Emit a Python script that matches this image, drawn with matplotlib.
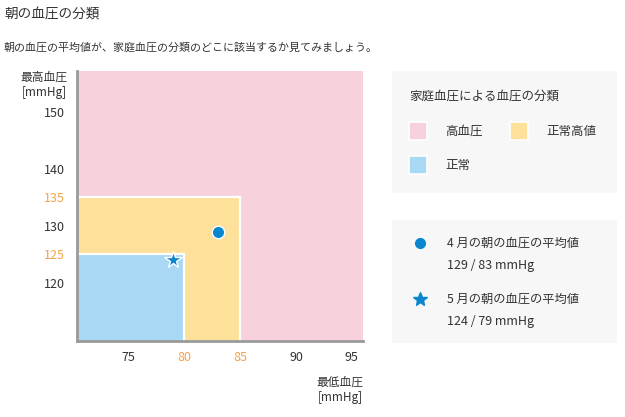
import matplotlib.pyplot as plt
from matplotlib.patches import Rectangle
from matplotlib.lines import Line2D

plt.rcParams['font.family'] = ['Noto Sans CJK JP', 'DejaVu Sans']

# classification (upper bounds: systolic / diastolic)
categories = ['高血圧', '正常高値', '正常']
sys_limits = [None, 135, 125]
dia_limits = [None, 85, 80]
cat_colors = ['#f7d1dc', '#fde09a', '#a8d8f3']

# monthly morning averages
months = ['4 月', '5 月']
systolic = [129, 124]
diastolic = [83, 79]
markers = ['o', '*']

x_ticks = [75, 80, 85, 90, 95]
y_ticks = [120, 125, 130, 135, 140, 150]
highlight = [80, 85, 125, 135]

W, H = 625, 417
ORANGE = '#f5a24a'
TEXT = '#333333'
BLUE = '#0a86d1'

fig = plt.figure(figsize=(W / 100, H / 100), dpi=100)


def fx(px):
    return px / W


def fy(py):
    return 1 - py / H


fig.text(fx(4), fy(15), '朝の血圧の分類', fontsize=9.8, color=TEXT, va='center')
fig.text(fx(4), fy(48), '朝の血圧の平均値が、家庭血圧の分類のどこに該当するか見てみましょう。',
         fontsize=7.9, color=TEXT, va='center')

ax = fig.add_axes([fx(77), fy(341), fx(363) - fx(77), fy(71) - fy(341)])
ax.set_xlim(70.4, 96)
ax.set_ylim(109.8, 157.2)
ax.set_facecolor(cat_colors[0])

for lim_s, lim_d, c in zip(sys_limits[1:], dia_limits[1:], cat_colors[1:]):
    ax.add_patch(Rectangle((60, 100), lim_d - 60, lim_s - 100, facecolor=c,
                           edgecolor='white', linewidth=1.6, zorder=1))

for s, d, m in zip(systolic, diastolic, markers):
    ax.plot(d, s, marker=m, color=BLUE, markersize=9 if m == 'o' else 13,
            markeredgecolor='white', markeredgewidth=1, zorder=5, clip_on=False)

for side in ['top', 'right']:
    ax.spines[side].set_visible(False)
for side in ['left', 'bottom']:
    ax.spines[side].set_color('#9a9a9a')
    ax.spines[side].set_linewidth(2)
    ax.spines[side].set_zorder(6)

ax.set_xticks(x_ticks)
ax.set_yticks(y_ticks)
ax.tick_params(length=0, labelsize=9, labelcolor=TEXT)
ax.tick_params(axis='x', pad=7)
ax.tick_params(axis='y', pad=9)
for lab, v in zip(ax.get_xticklabels(), x_ticks):
    if v in highlight:
        lab.set_color(ORANGE)
for lab, v in zip(ax.get_yticklabels(), y_ticks):
    if v in highlight:
        lab.set_color(ORANGE)

fig.text(fx(67), fy(85), '最高血圧\n[mmHg]', fontsize=8.5, color=TEXT,
         ha='right', va='center', linespacing=1.2)
fig.text(fx(363), fy(390), '最低血圧\n[mmHg]', fontsize=8.5, color=TEXT,
         ha='right', va='center', linespacing=1.2)

# legend panels
for top, bottom in [(71, 193), (220, 343)]:
    fig.patches.append(Rectangle((fx(392), fy(bottom)), fx(617) - fx(392), fy(top) - fy(bottom),
                                 transform=fig.transFigure, facecolor='#f7f7f7',
                                 edgecolor='none'))

fig.text(fx(409), fy(96), '家庭血圧による血圧の分類', fontsize=9, color=TEXT, va='center')
swatch_pos = [(409, 131), (510, 131), (409, 165)]
for (px, py), name, c in zip(swatch_pos, categories, cat_colors):
    fig.patches.append(Rectangle((fx(px), fy(py + 9)), fx(18), 18 / H,
                                 transform=fig.transFigure, facecolor=c,
                                 edgecolor='white', linewidth=1.2))
    fig.text(fx(px + 36), fy(py), name, fontsize=9, color=TEXT, va='center')

for i, (mo, s, d, m) in enumerate(zip(months, systolic, diastolic, markers)):
    y0 = 243 + i * 56
    fig.add_artist(Line2D([fx(420)], [fy(y0)], marker=m, color=BLUE,
                          markersize=7 if m == 'o' else 10, linestyle='none',
                          transform=fig.transFigure))
    fig.text(fx(447), fy(y0), f'{mo}の朝の血圧の平均値', fontsize=8.8, color=TEXT, va='center')
    fig.text(fx(447), fy(y0 + 23), f'{s} / {d} mmHg', fontsize=9, color=TEXT, va='center')

fig.savefig('out.png', dpi=100)
